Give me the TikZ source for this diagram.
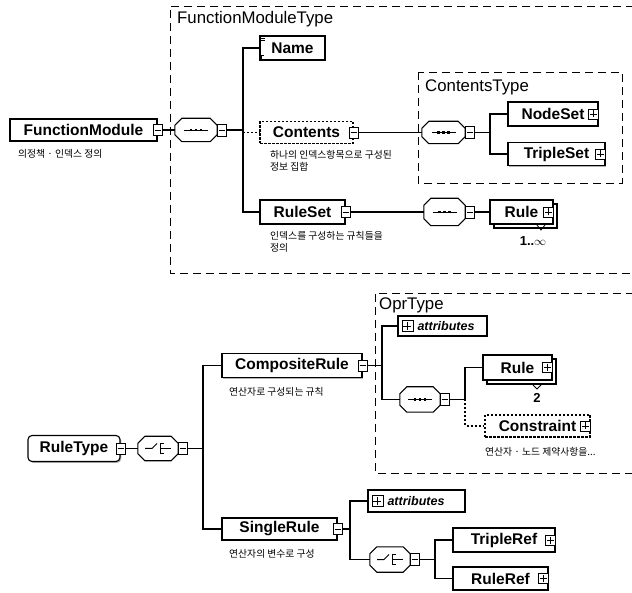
\documentclass[tikz,border=0pt]{standalone}
\usepackage{fontspec}
\setmainfont{Liberation Sans}
\newfontfamily\krfont{Noto Sans CJK KR}
\usetikzlibrary{shadows,calc}

\newcommand\elemfont{\fontsize{15.5}{18}\selectfont\bfseries}
\newcommand\typefont{\fontsize{16.8}{19}\selectfont}
\newcommand\notefont{\krfont\fontsize{9.8}{12.5}\selectfont}
\newcommand\attrfont{\fontsize{12.5}{15}\selectfont\bfseries\itshape}
\newcommand\multfont{\fontsize{13}{15}\selectfont\bfseries}

% octagonal outline of a compositor node
\newcommand\compoutline[1]{%
  \draw[line width=1.1pt, fill=white]
    ($(#1.north west)+(7,0)$) -- ($(#1.north east)+(-7,0)$) -- ($(#1.north east)+(0,7)$)
    -- ($(#1.south east)+(0,-7)$) -- ($(#1.south east)+(-7,0)$) -- ($(#1.south west)+(7,0)$)
    -- ($(#1.south west)+(0,-7)$) -- ($(#1.north west)+(0,7)$) -- cycle;
}
% sequence mark inside a compositor
\newcommand\seqmark[1]{%
  \compoutline{#1}
  \draw[line width=0.9pt] (#1.center) ++(-12,0) -- ++(24,0);
  \foreach \dx in {-5,0,5}{\fill (#1.center) ++(\dx-1.4,-1.4) rectangle ++(2.8,2.8);}
}
% choice mark inside a compositor
\newcommand\choicemark[1]{%
  \compoutline{#1}
  \draw[line width=1pt] (#1.center) ++(-13,0) -- ++(7,0) -- ++(5,-5);
  \draw[line width=1pt] (#1.center) ++(6,-5) -- ++(-4,0) -- ++(0,10) -- ++(4,0);
  \draw[line width=1pt] (#1.center) ++(2,0) -- ++(11,0);
}

\tikzset{
  elem/.style={draw, line width=1.1pt, fill=white, font=\elemfont, inner sep=0pt,
    general shadow={fill=black!30, shadow xshift=1.3pt, shadow yshift=-1.3pt}},
  optelem/.style={draw, line width=1.1pt, fill=white, font=\elemfont, inner sep=0pt,
    dash pattern=on 2.5pt off 1.5pt},
  multielem/.style={elem, copy shadow={shadow xshift=4pt, shadow yshift=-4pt}},
  ctype/.style={elem, rounded corners=4pt},
  attrbox/.style={draw, line width=1.1pt, fill=white, font=\attrfont, inner sep=0pt,
    align=left, text width=#1},
  compositor/.style={inner sep=0pt},
  togglebox/.style={draw, line width=0.8pt, fill=white, minimum width=9pt,
    minimum height=11pt, inner sep=0pt},
  minusbox/.style={togglebox, path picture={
    \draw[line width=0.8pt] ([xshift=1.5pt]path picture bounding box.west) -- ([xshift=-1.5pt]path picture bounding box.east);}},
  plusbox/.style={togglebox, minimum width=10pt, minimum height=10pt, path picture={
    \draw[line width=0.8pt] ([xshift=1.5pt]path picture bounding box.west) -- ([xshift=-1.5pt]path picture bounding box.east)
      ([yshift=1.5pt]path picture bounding box.south) -- ([yshift=-1.5pt]path picture bounding box.north);}},
  typebox/.style={draw, line width=0.7pt, dash pattern=on 8pt off 5pt},
  typelabel/.style={font=\typefont, anchor=west, inner sep=0pt},
  note/.style={font=\notefont, anchor=north west, inner sep=0pt, align=left},
  conn/.style={line width=1.7pt},
  optconn/.style={line width=1.3pt, dash pattern=on 2pt off 2pt},
}

\begin{document}
\begin{tikzpicture}[x=1pt,y=-1pt]
\useasboundingbox (0,0) rectangle (632,593);

% ---------- type containers ----------
\draw[typebox] (660,6) -- (170,6) -- (170,273) -- (660,273);
\node[typelabel] (fmt-label) at (177,19) {FunctionModuleType};
\draw[typebox] (418,72) rectangle (622,183);
\node[typelabel] (ct-label) at (425,87) {ContentsType};
\draw[typebox] (660,293) -- (375,293) -- (375,473) -- (660,473);
\node[typelabel] (ot-label) at (379,305) {OprType};

% ---------- FunctionModule ----------
\node[elem, minimum width=147pt, minimum height=22pt] (fm) at (83.5,130) {FunctionModule};
\node[minusbox] (fm-m) at (fm.east) {};
\node[note] (fm-note) at (18,149) {의정책 · 인덱스 정의};

\node[compositor, minimum width=42pt, minimum height=23pt] (seq1) at (196,130) {};
\seqmark{seq1}
\node[minusbox, anchor=west, minimum height=12pt] (seq1-m) at (seq1.east) {};

\node[elem, minimum width=65pt, minimum height=24pt] (name) at (292.5,48) {Name};
\draw[line width=0.6pt] ($(name.north west)+(2,2.5)$) -- ++(4,0)
  ($(name.north west)+(2,5)$) -- ++(4,0)
  ($(name.south west)+(2,-2)$) -- ++(0,-3) -- ++(3,0);

\node[optelem, minimum width=93pt, minimum height=22pt] (cont) at (306.5,132.5) {Contents};
\node[minusbox] (cont-m) at (cont.east) {};
\node[note] (cont-note) at (270,150) {하나의 인덱스항목으로 구성된\\정보 집합};

\node[elem, minimum width=85pt, minimum height=24pt] (ruleset) at (302.5,212) {RuleSet};
\node[minusbox] (ruleset-m) at (ruleset.east) {};
\node[note] (ruleset-note) at (270,231) {인덱스를 구성하는 규칙들을\\정의};

% ContentsType content
\node[compositor, minimum width=43pt, minimum height=22pt] (seq2) at (443.5,132.5) {};
\seqmark{seq2}
\node[minusbox, anchor=west, minimum height=12pt] (seq2-m) at (seq2.east) {};
\node[elem, minimum width=90pt, minimum height=24pt] (nodeset) at (553,114) {NodeSet\hspace{15pt}};
\node[plusbox] (nodeset-p) at ($(nodeset.east)+(-5,0)$) {};
\node[elem, minimum width=97pt, minimum height=23pt] (tripleset) at (556.5,154) {TripleSet\hspace{15pt}};
\node[plusbox] (tripleset-p) at ($(tripleset.east)+(-5,0)$) {};

% RuleSet content
\node[compositor, minimum width=41pt, minimum height=27pt] (seq3) at (444.5,212) {};
\seqmark{seq3}
\node[minusbox, anchor=west, minimum height=12pt] (seq3-m) at (seq3.east) {};
\node[multielem, minimum width=63pt, minimum height=24pt] (rule1) at (521.5,212) {Rule\hspace{15pt}};
\node[plusbox] (rule1-p) at ($(rule1.east)+(-5,0)$) {};
\node[font=\multfont, inner sep=0pt] (rule1-mult) at (533,241) {1..$\infty$};
\draw[line width=0.8pt] (537,225) -- (541,230) -- (545,225);

% connectors (top)
\coordinate (sp1) at (243,130);
\coordinate (sp2) at (490,132.5);
\draw[conn] (fm-m.east) -- (seq1.west);
\draw[conn] (seq1-m.east) -- (sp1);
\draw[conn] (name.west) -| (sp1) |- (ruleset.west);
\draw[optconn] (sp1 |- cont.west) -- (cont.west);
\draw[conn] (cont-m.east) -- (seq2.west);
\draw[conn] (seq2-m.east) -- (sp2);
\draw[conn] (nodeset.west) -| (sp2) |- (tripleset.west);
\draw[conn] (ruleset-m.east) -- (seq3.west);
\draw[conn] (seq3-m.east) -- (rule1.west);

% ---------- RuleType ----------
\node[ctype, minimum width=92pt, minimum height=26pt] (ruletype) at (74,448.5) {RuleType\hspace{8pt}};
\node[minusbox] (ruletype-m) at (ruletype.east) {};
\node[compositor, minimum width=40pt, minimum height=24pt] (ch1) at (158,448.5) {};
\choicemark{ch1}
\node[minusbox, anchor=west, minimum height=12pt] (ch1-m) at (ch1.east) {};

\node[elem, minimum width=140pt, minimum height=24pt] (comp) at (292,365.5) {CompositeRule};
\node[minusbox] (comp-m) at (comp.east) {};
\node[note] (comp-note) at (229,387) {연산자로 구성되는 규칙};

\node[elem, minimum width=115pt, minimum height=22pt] (single) at (279.5,529) {SingleRule};
\node[minusbox] (single-m) at (single.east) {};
\node[note] (single-note) at (229,549) {연산자의 변수로 구성};

% OprType content
\node[attrbox=80pt, minimum width=89pt, minimum height=20pt] (attr1) at (442.5,326) {\hspace{4pt}\phantom{\rule{11pt}{1pt}}attributes};
\node[plusbox, minimum width=11pt, minimum height=11pt] (attr1-p) at ($(attr1.west)+(10,0)$) {};
\node[compositor, minimum width=40pt, minimum height=25pt] (seq4) at (420,399.5) {};
\seqmark{seq4}
\node[minusbox, anchor=west, minimum height=12pt] (seq4-m) at (seq4.east) {};
\node[multielem, minimum width=69pt, minimum height=25pt] (rule2) at (517.5,367.5) {Rule\hspace{15pt}};
\node[plusbox] (rule2-p) at ($(rule2.east)+(-5,0)$) {};
\node[font=\multfont, inner sep=0pt] (rule2-mult) at (537,398) {2};
\draw[line width=0.8pt] (533,385) -- (537,389) -- (541,385);
\node[optelem, minimum width=105pt, minimum height=22pt] (constr) at (537.5,426) {Constraint\hspace{15pt}};
\node[plusbox] (constr-p) at ($(constr.east)+(-5,0)$) {};
\node[note] (constr-note) at (485,447) {연산자 · 노드 제약사항을...};

% SingleRule content
\node[attrbox=88pt, minimum width=97pt, minimum height=22pt] (attr2) at (416.5,501) {\hspace{4pt}\phantom{\rule{11pt}{1pt}}attributes};
\node[plusbox, minimum width=11pt, minimum height=11pt] (attr2-p) at ($(attr2.west)+(10,0)$) {};
\node[compositor, minimum width=40pt, minimum height=25pt] (ch2) at (390,559.5) {};
\choicemark{ch2}
\node[minusbox, anchor=west, minimum height=12pt] (ch2-m) at (ch2.east) {};
\node[elem, minimum width=102pt, minimum height=24pt] (tripleref) at (504,540) {TripleRef\hspace{15pt}};
\node[plusbox] (tripleref-p) at ($(tripleref.east)+(-5,0)$) {};
\node[elem, minimum width=95pt, minimum height=23pt] (ruleref) at (500.5,578.5) {RuleRef\hspace{15pt}};
\node[plusbox] (ruleref-p) at ($(ruleref.east)+(-5,0)$) {};

% connectors (bottom)
\coordinate (sp3) at (203,448.5);
\coordinate (sp4) at (382,365.5);
\coordinate (sp5) at (465,399.5);
\coordinate (sp6) at (350,529);
\coordinate (sp7) at (435,559.5);
\draw[conn] (ruletype-m.east) -- (ch1.west);
\draw[conn] (ch1-m.east) -- (sp3);
\draw[conn] (comp.west) -| (sp3) |- (single.west);
\draw[conn] (comp-m.east) -- (sp4);
\draw[conn] (attr1.west) -| (sp4) |- (seq4.west);
\draw[conn] (seq4-m.east) -- (sp5);
\draw[conn] (rule2.west) -| (sp5);
\draw[optconn] (sp5) |- (constr.west);
\draw[conn] (single-m.east) -- (sp6);
\draw[conn] (attr2.west) -| (sp6) |- (ch2.west);
\draw[conn] (ch2-m.east) -- (sp7);
\draw[conn] (tripleref.west) -| (sp7) |- (ruleref.west);
\end{tikzpicture}
\end{document}
